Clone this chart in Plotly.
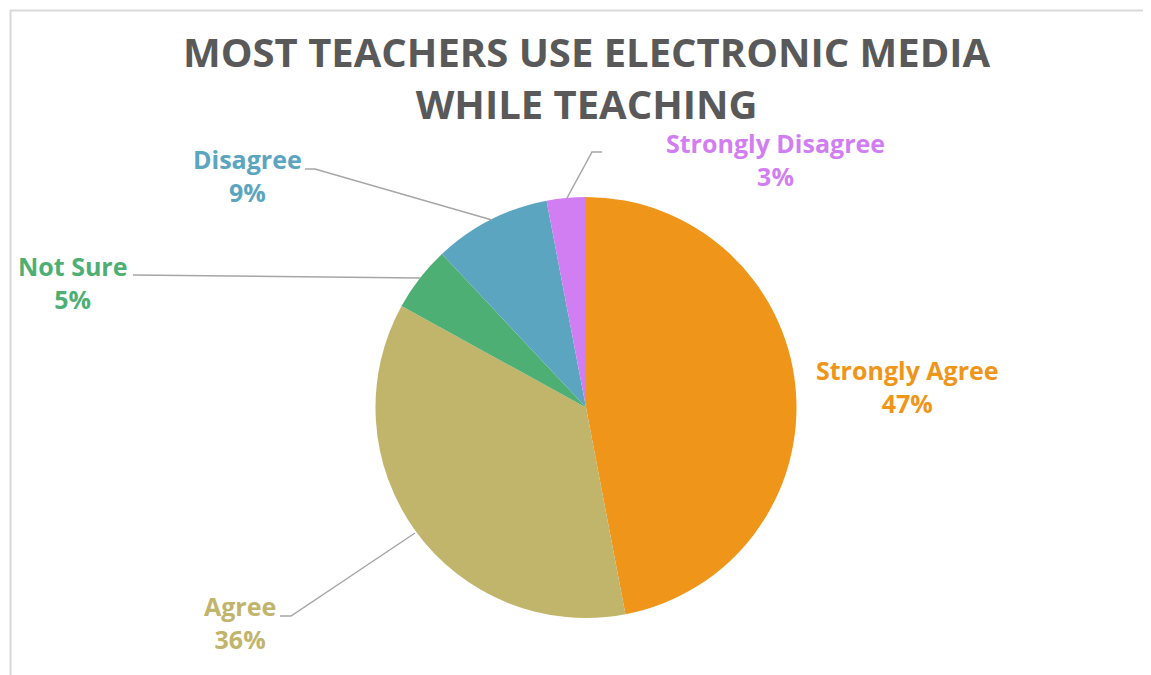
import plotly.graph_objects as go

# ---- data ----
labels = ["Strongly Agree", "Agree", "Not Sure", "Disagree", "Strongly Disagree"]
values = [47, 36, 5, 9, 3]
colors = ["#EF9519", "#C1B46B", "#4DAF74", "#5BA5C0", "#D27EF3"]
title_text = "MOST TEACHERS USE ELECTRONIC MEDIA<br>WHILE TEACHING"

# page body has an 8px margin; figure sized so the page fits the window
OFF = 8
W, H = 1151 - OFF, 675 - OFF


def px(x):
    return (x - OFF) / W


def py(y):
    return 1 - (y - OFF) / H


fig = go.Figure()
fig.add_trace(go.Pie(
    labels=labels,
    values=values,
    marker=dict(colors=colors, line=dict(color="white", width=0)),
    sort=False,
    direction="clockwise",
    rotation=0,
    textinfo="none",
    hoverinfo="label+percent",
    showlegend=False,
    domain=dict(x=[px(375), px(797)], y=[py(618), py(197)]),
))

# label placements (pixel centres) and leader lines (layout only)
label_pos = {
    "Strongly Agree": (907, 386),
    "Agree": (240, 622),
    "Not Sure": (72, 283),
    "Disagree": (247, 176),
    "Strongly Disagree": (775, 160),
}
leaders = {
    "Agree": [(280, 616), (291, 616), (415, 533)],
    "Not Sure": [(133, 275), (420, 278)],
    "Disagree": [(305, 169), (315, 169), (492, 220)],
    "Strongly Disagree": [(602, 152), (592, 152), (567, 198)],
}

label_font = "Open Sans"
for lab, val, col in zip(labels, values, colors):
    x, y = label_pos[lab]
    fig.add_annotation(
        x=px(x), y=py(y), xref="paper", yref="paper",
        text=f"<b>{lab}<br>{val}%</b>", showarrow=False,
        font=dict(family=label_font, size=25, color=col),
        align="center", xanchor="center", yanchor="middle",
    )

for lab, pts in leaders.items():
    path = "M " + " L ".join(f"{px(a)},{py(b)}" for a, b in pts)
    fig.add_shape(type="path", path=path, xref="paper", yref="paper",
                  line=dict(color="#A6A6A6", width=1.5))

# chart border (cropped frame)
fig.add_shape(type="rect", xref="paper", yref="paper",
              x0=px(10.5), y0=py(720), x1=px(1220), y1=py(10.5),
              line=dict(color="#D9D9D9", width=2))

fig.add_annotation(
    x=px(587), y=py(78), xref="paper", yref="paper",
    text=f"<b>{title_text}</b>", showarrow=False,
    font=dict(family="Open Sans", size=40, color="#595959"),
    align="center", xanchor="center", yanchor="middle",
)

fig.update_layout(
    width=W, height=H,
    margin=dict(l=0, r=0, t=0, b=0),
    paper_bgcolor="white", plot_bgcolor="white",
)

fig.write_html("out.html")
